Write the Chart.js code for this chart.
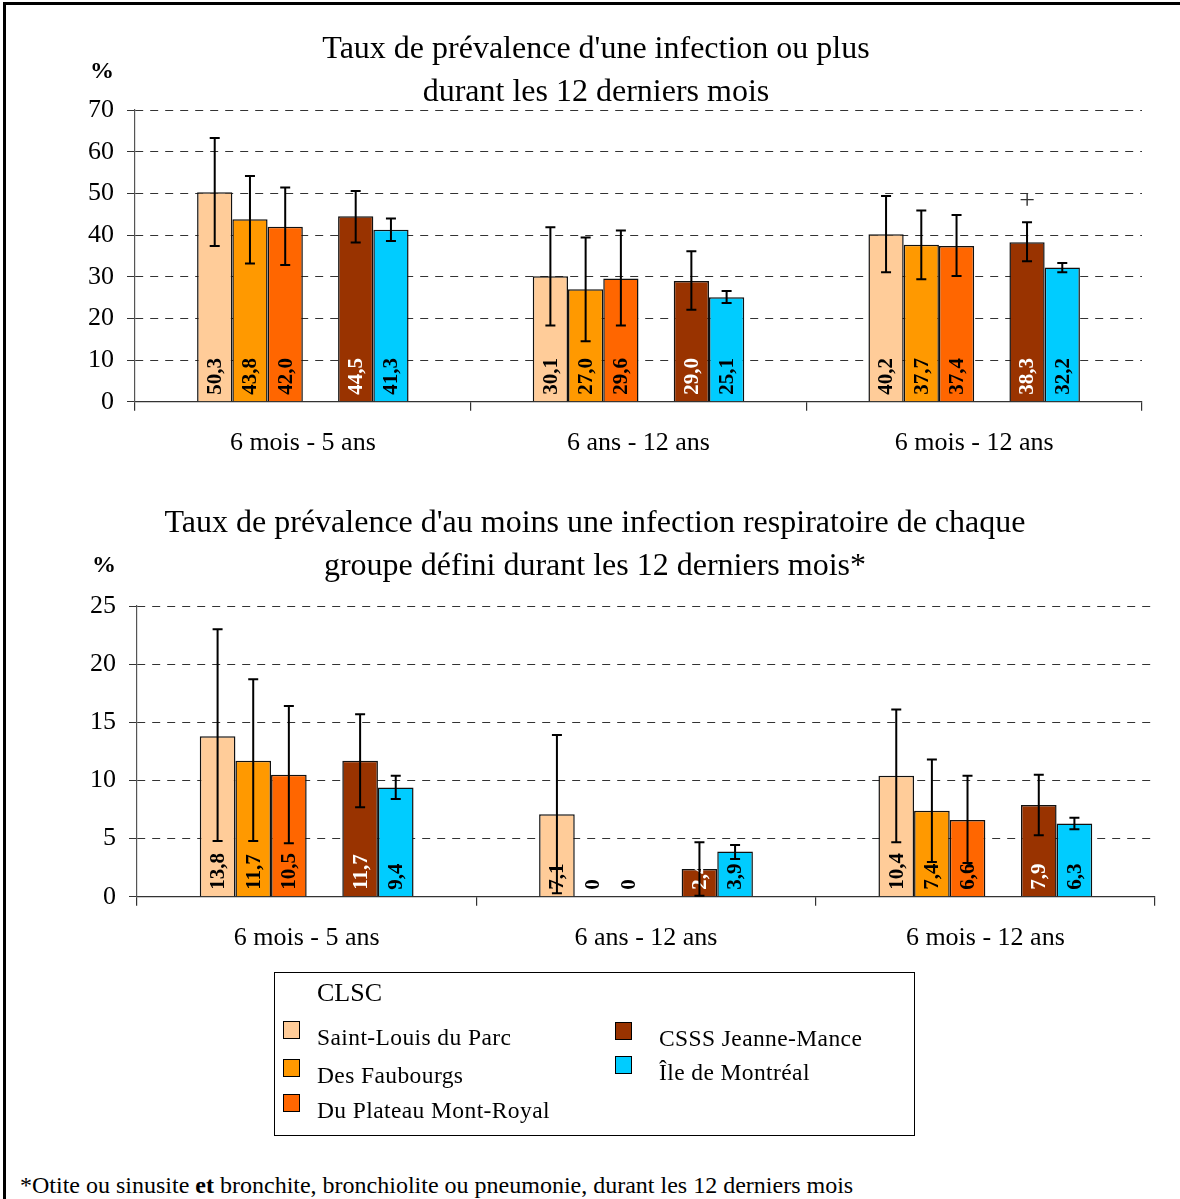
<!DOCTYPE html>
<html>
<head>
<meta charset="utf-8">
<script src="https://cdn.jsdelivr.net/npm/chart.js@4.4.1/dist/chart.umd.min.js"></script>
<style>
  body { margin: 0; background: #fff; font-family: "Liberation Serif", serif; }
  #page { position: relative; width: 1180px; height: 1199px; overflow: hidden; }
  #frame { position: absolute; left: 3px; top: 2px; width: 1200px; height: 1220px; border: 3px solid #000; }
  canvas { position: absolute; left: 0; }
  #topChart { top: 0; }
  #bottomChart { top: 480px; }
  #legend { position: absolute; left: 274px; top: 972px; width: 639px; height: 162px; border: 1.5px solid #000; }
  .lg-title { position: absolute; left: 42px; top: 5px; font-size: 26px; }
  .lg-item { position: absolute; font-size: 23.5px; letter-spacing: 0.4px; white-space: nowrap; }
  .lg-box { position: absolute; width: 15px; height: 16px; border: 1.5px solid #000; }
  #note { position: absolute; left: 20px; top: 1172px; font-size: 24px; white-space: nowrap; }
</style>
</head>
<body>
<div id="page">
  <div id="frame"></div>
  <canvas id="topChart" width="1180" height="489"></canvas>
  <canvas id="bottomChart" width="1180" height="504"></canvas>
  <div id="legend"></div>
  <div id="note">*Otite ou sinusite <b>et</b> bronchite, bronchiolite ou pneumonie, durant les 12 derniers mois</div>
</div>
<script>
  const categories = ["6 mois - 5 ans", "6 ans - 12 ans", "6 mois - 12 ans"];
  const seriesNames = ["Saint-Louis du Parc", "Des Faubourgs", "Du Plateau Mont-Royal", "CSSS Jeanne-Mance", "Île de Montréal"];
  const seriesColors = ["#FFCC99", "#FF9900", "#FF6600", "#993300", "#00CCFF"];
  const labelColors = ["#000", "#000", "#000", "#fff", "#000"];

  // chart 1 : une infection ou plus
  const topSaintLouis = [50.3, 30.1, 40.2];
  const topFaubourgs = [43.8, 27.0, 37.7];
  const topPlateau = [42.0, 29.6, 37.4];
  const topJeanneMance = [44.5, 29.0, 38.3];
  const topMontreal = [41.3, 25.1, 32.2];
  const topSaintLouisCI = [[37.4, 63.3], [18.3, 41.9], [31.1, 49.4]];
  const topFaubourgsCI = [[33.2, 54.2], [14.5, 39.4], [29.4, 45.9]];
  const topPlateauCI = [[32.8, 51.4], [18.3, 41.1], [30.2, 44.8]];
  const topJeanneManceCI = [[38.2, 50.6], [22.1, 36.1], [33.7, 43.1]];
  const topMontrealCI = [[38.6, 44.0], [23.7, 26.6], [31.1, 33.3]];
  const topJeanneManceFlag = [null, null, ["+", 47.9]];

  // chart 2 : infection respiratoire de chaque groupe
  const botSaintLouis = [13.8, 7.1, 10.4];
  const botFaubourgs = [11.7, 0, 7.4];
  const botPlateau = [10.5, 0, 6.6];
  const botJeanneMance = [11.7, 2.4, 7.9];
  const botMontreal = [9.4, 3.9, 6.3];
  const botSaintLouisCI = [[4.8, 23.0], [0.3, 13.9], [4.7, 16.1]];
  const botFaubourgsCI = [[4.8, 18.7], null, [3.0, 11.8]];
  const botPlateauCI = [[4.6, 16.4], null, [2.9, 10.4]];
  const botJeanneManceCI = [[7.7, 15.7], [0.1, 4.7], [5.3, 10.5]];
  const botMontrealCI = [[8.4, 10.4], [3.25, 4.45], [5.8, 6.8]];

  const serif = "'Liberation Serif', 'Times New Roman', serif";

  function makeDatasets(values, cis, flags) {
    const sets = values.map((v, i) => ({
      label: seriesNames[i],
      data: v,
      ci: cis[i],
      flags: flags[i] || null,
      textColor: labelColors[i],
      backgroundColor: seriesColors[i],
      borderColor: "#111",
      borderWidth: 1.5
    }));
    // empty slot between the CLSC and the territory bars
    sets.splice(3, 0, { label: "", data: [null, null, null], ci: null });
    return sets;
  }

  function fmt(v) {
    return v === 0 ? "0" : v.toFixed(1).replace(".", ",");
  }

  const extras = {
    id: "extras",
    afterDatasetsDraw(chart) {
      const ctx = chart.ctx;
      const y = chart.scales.y;
      const area = chart.chartArea;
      ctx.save();
      chart.data.datasets.forEach((ds, di) => {
        if (!ds.ci) return;
        const meta = chart.getDatasetMeta(di);
        meta.data.forEach((bar, i) => {
          const x = bar.x;
          // value label, rotated, at bar foot
          ctx.save();
          ctx.translate(x + 1, y.getPixelForValue(0) - 7);
          ctx.rotate(-Math.PI / 2);
          ctx.font = "bold 21px " + serif;
          ctx.fillStyle = ds.textColor;
          ctx.textAlign = "left";
          ctx.textBaseline = "middle";
          ctx.fillText(fmt(ds.data[i]), 0, 0);
          ctx.restore();
          // error bar
          const ci = ds.ci[i];
          if (ci) {
            const y1 = y.getPixelForValue(ci[0]);
            const y2 = y.getPixelForValue(ci[1]);
            ctx.strokeStyle = "#000";
            ctx.lineWidth = 2;
            ctx.beginPath();
            ctx.moveTo(x, y1); ctx.lineTo(x, y2);
            ctx.moveTo(x - 5, y1); ctx.lineTo(x + 5, y1);
            ctx.moveTo(x - 5, y2); ctx.lineTo(x + 5, y2);
            ctx.stroke();
          }
          const f = ds.flags && ds.flags[i];
          if (f) {
            ctx.font = "28px " + serif;
            ctx.fillStyle = "#333";
            ctx.textAlign = "center";
            ctx.textBaseline = "middle";
            ctx.fillText(f[0], x, y.getPixelForValue(f[1]));
          }
        });
      });
      ctx.font = "bold 24px " + serif;
      ctx.fillStyle = "#000";
      ctx.textAlign = "center";
      ctx.textBaseline = "middle";
      ctx.fillText("%", area.left - 33, area.top - chart.options.pctOffset);
      ctx.restore();
    }
  };

  function renderChart(canvasId, values, cis, flags, title, yMax, yStep, padding, yWidth, titlePad, pctOffset) {
    const ctx = document.getElementById(canvasId).getContext("2d");
    return new Chart(ctx, {
      type: "bar",
      data: {
        labels: categories,
        datasets: makeDatasets(values, cis, flags)
      },
      options: {
        responsive: false,
        animation: false,
        pctOffset: pctOffset,
        categoryPercentage: 0.63,
        barPercentage: 1,
        layout: { padding: padding },
        plugins: {
          legend: { display: false },
          tooltip: { enabled: false },
          title: {
            display: true,
            text: title,
            color: "#000",
            font: { family: serif, size: 32, weight: "normal", lineHeight: 1.344 },
            padding: titlePad
          }
        },
        scales: {
          x: {
            grid: { offset: true, drawOnChartArea: false, tickLength: 9, color: "#333", lineWidth: 1.2 },
            border: { color: "#333", width: 1.2 },
            ticks: { color: "#000", padding: 17, font: { family: serif, size: 26 } }
          },
          y: {
            min: 0,
            max: yMax,
            afterFit: scale => { scale.width = yWidth; },
            grid: { color: "#333", lineWidth: 1, tickLength: 8, tickBorderDash: [] },
            border: { color: "#555", width: 1.2, dash: [8, 7] },
            ticks: { stepSize: yStep, color: "#000", padding: 13, font: { family: serif, size: 26 } }
          }
        }
      },
      plugins: [extras]
    });
  }

  function fillLegend() {
    const box = document.getElementById("legend");
    box.innerHTML = '<div class="lg-title">CLSC</div>';
    const spots = [[8, 42, 65], [8, 42, 103], [8, 42, 138], [340, 384, 66], [340, 384, 100]];
    seriesNames.forEach((name, i) => {
      const s = spots[i];
      const sw = document.createElement("div");
      sw.className = "lg-box";
      sw.style.left = s[0] + "px";
      sw.style.top = (s[2] - 17) + "px";
      sw.style.background = seriesColors[i];
      box.appendChild(sw);
      const tx = document.createElement("div");
      tx.className = "lg-item";
      tx.style.left = s[1] + "px";
      tx.style.top = (s[2] - 14) + "px";
      tx.textContent = name;
      box.appendChild(tx);
    });
  }

  document.fonts.load("26px 'Liberation Serif'").then(() => {
    renderChart("topChart",
      [topSaintLouis, topFaubourgs, topPlateau, topJeanneMance, topMontreal],
      [topSaintLouisCI, topFaubourgsCI, topPlateauCI, topJeanneManceCI, topMontrealCI],
      [null, null, null, topJeanneManceFlag, null],
      ["Taux de prévalence d'une infection ou plus", "durant les 12 derniers mois"],
      70, 10, { left: 50, right: 38, top: 0, bottom: 13 }, 85, { top: 28, bottom: -4 }, 38);
    renderChart("bottomChart",
      [botSaintLouis, botFaubourgs, botPlateau, botJeanneMance, botMontreal],
      [botSaintLouisCI, botFaubourgsCI, botPlateauCI, botJeanneManceCI, botMontrealCI],
      [null, null, null, null, null],
      ["Taux de prévalence d'au moins une infection respiratoire de chaque", "groupe défini durant les 12 derniers mois*"],
      25, 5, { left: 35, right: 25, top: 0, bottom: 13 }, 102, { top: 22, bottom: 18 }, 40);
    fillLegend();
  });
</script>
</body>
</html>
